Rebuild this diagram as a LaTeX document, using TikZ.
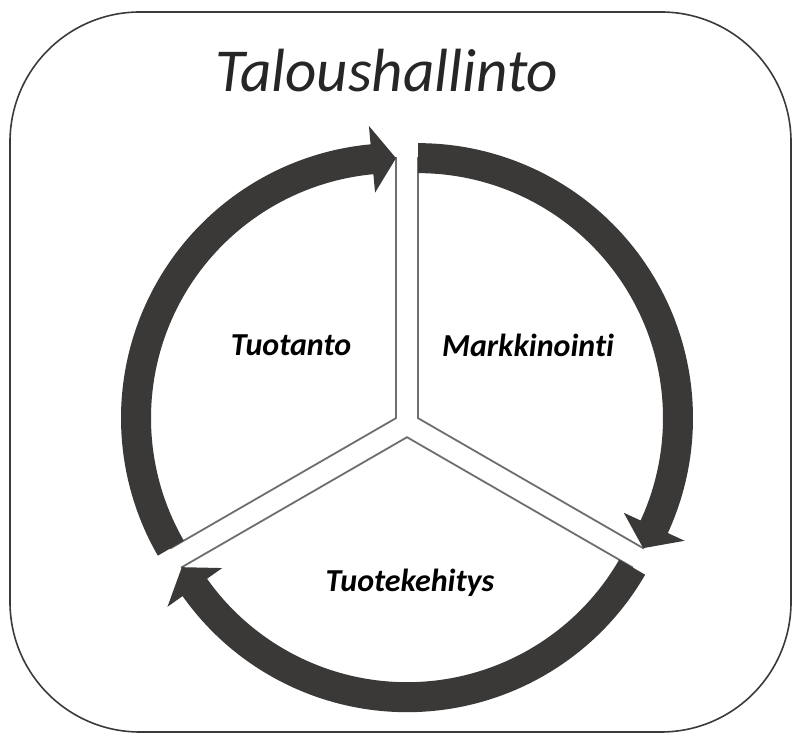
\documentclass[tikz,border=0pt]{standalone}
\usepackage{fontspec}
\setmainfont{Carlito}[Ligatures=NoCommon]
\usetikzlibrary{calc}
\definecolor{bandc}{HTML}{3B3938}
\definecolor{edgec}{HTML}{6E6E6E}
\definecolor{framec}{HTML}{3A3A3A}
\tikzset{
  frame/.style={draw=framec,line width=1.6pt,rounded corners=130pt},
  slice/.style={draw=edgec,line width=1.8pt,fill=white,line join=miter},
  band/.style={fill=bandc},
  lab/.style={font=\fontsize{32}{37}\selectfont\bfseries\itshape,text=black},
  title/.style={font=\fontsize{61}{70}\selectfont\itshape,text=black!85}
}
\begin{document}
\begin{tikzpicture}[x=1pt,y=1pt]
\useasboundingbox (0,0) rectangle (793,735);
\draw[frame] (10,3) rectangle (791,723);
\node[title,anchor=base] (ttl) at (387,643) {Taloushallinto};
% shifted slice centres
\coordinate (A) at (396,316.85);
\coordinate (B) at (418,316.85);
\coordinate (C) at (407,297.8);
% slices
\draw[slice] (A) -- ($(A)+(210:260)$) arc[start angle=210,end angle=90,radius=260] -- cycle;
\draw[slice] (B) -- ($(B)+(90:260)$) arc[start angle=90,end angle=-30,radius=260] -- cycle;
\draw[slice] (C) -- ($(C)+(-30:260)$) arc[start angle=-30,end angle=-150,radius=260] -- cycle;
% arrows
\fill[band] ($(A)+(210:245)$) arc[start angle=210,end angle=95.3,radius=245]
  -- ($(A)+(95.3:226.5)$) -- ($(A)+(90:260)$) -- ($(A)+(95.3:293.5)$)
  -- ($(A)+(95.3:275)$) arc[start angle=95.3,end angle=210,radius=275] -- cycle;
\fill[band] ($(B)+(90:245)$) arc[start angle=90,end angle=-24.7,radius=245]
  -- ($(B)+(-24.7:226.5)$) -- ($(B)+(-30:260)$) -- ($(B)+(-24.7:293.5)$)
  -- ($(B)+(-24.7:275)$) arc[start angle=-24.7,end angle=90,radius=275] -- cycle;
\fill[band] ($(C)+(-30:245)$) arc[start angle=-30,end angle=-144.7,radius=245]
  -- ($(C)+(-144.7:226.5)$) -- ($(C)+(-150:260)$) -- ($(C)+(-144.7:293.5)$)
  -- ($(C)+(-144.7:275)$) arc[start angle=-144.7,end angle=-30,radius=275] -- cycle;
% labels
\node[lab] (tuo) at (291,390) {Tuotanto};
\node[lab] (mar) at (528,390) {Markkinointi};
\node[lab] (tke) at (410,152) {Tuotekehitys};
\end{tikzpicture}
\end{document}
